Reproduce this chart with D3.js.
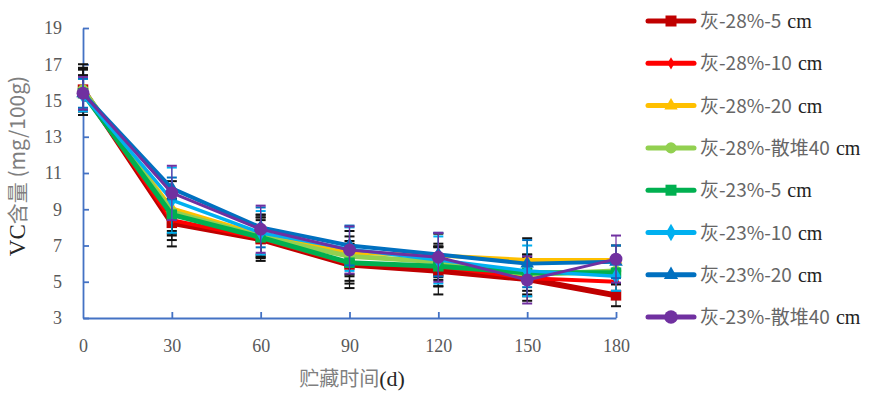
<!DOCTYPE html>
<meta charset="utf-8">
<style>
body { margin: 0; background: #fff; }
text { font-family: 'Liberation Serif', serif; }
.cjk { font-family: 'Noto Sans CJK SC', sans-serif; }
</style>
<body>
<script src="https://cdn.jsdelivr.net/npm/d3@7"></script>
<script>

// data
var days = [0, 30, 60, 90, 120, 150, 180];
var yTicks = [3, 5, 7, 9, 11, 13, 15, 17, 19];

var names = ["灰-28%-5", "灰-28%-10", "灰-28%-20", "灰-28%-散堆40",
             "灰-23%-5", "灰-23%-10", "灰-23%-20", "灰-23%-散堆40"];

var s28_5   = [15.6, 8.25, 7.35, 5.95, 5.6, 5.15, 4.25];
var s28_10  = [15.5, 8.4, 7.4, 6.0, 5.85, 5.2, 5.0];
var s28_20  = [15.6, 9.05, 7.6, 6.6, 6.45, 6.2, 6.2];
var s28_40  = [15.6, 8.85, 7.5, 6.4, 6.1, 5.4, 5.6];
var s23_5   = [15.4, 8.7, 7.45, 6.05, 5.85, 5.5, 5.5];
var s23_10  = [15.3, 9.5, 7.7, 6.8, 6.2, 5.6, 5.3];
var s23_20  = [15.4, 10.15, 8.0, 7.0, 6.5, 6.0, 6.1];
var s23_40  = [15.4, 9.9, 7.9, 6.75, 6.35, 5.1, 6.25];

// standard errors
var e28_5   = [1.4, 1.3, 1.2, 1.3, 1.3, 1.2, 0.6];
var e28_10  = [1.3, 1.1, 1.0, 1.1, 1.1, 1.0, 0.5];
var e28_20  = [1.2, 1.5, 1.1, 1.2, 1.2, 1.2, 0.8];
var e28_40  = [1.1, 1.2, 1.2, 1.1, 1.0, 1.1, 0.7];
var e23_5   = [1.0, 0.9, 1.1, 1.0, 1.1, 1.0, 0.6];
var e23_10  = [0.9, 1.8, 1.2, 1.2, 1.3, 1.4, 0.8];
var e23_20  = [0.8, 0.6, 1.1, 1.1, 1.2, 1.3, 0.9];
var e23_40  = [0.9, 1.5, 1.3, 1.3, 1.35, 1.3, 1.3];

var values = [s28_5, s28_10, s28_20, s28_40, s23_5, s23_10, s23_20, s23_40];
var errors = [e28_5, e28_10, e28_20, e28_40, e23_5, e23_10, e23_20, e23_40];
var colors = ["#c00000", "#ff0000", "#ffc000", "#92d050", "#00b050", "#00b0f0", "#0070c0", "#7030a0"];
var errColors = ["#111", "#111", "#111", "#111", "#111", "#00b0f0", "#0070c0", "#7030a0"];
var widths = [6, 4, 4, 5, 5, 3.5, 4, 3];
var shapes = [d3.symbolSquare, d3.symbolDiamond, d3.symbolTriangle, d3.symbolCircle,
              d3.symbolSquare, d3.symbolDiamond, d3.symbolTriangle, d3.symbolCircle];
var sizes = [110, 40, 70, 90, 110, 80, 80, 130];

var margin = {left: 83, top: 28},
    W = 886, H = 398,
    width = 616 - margin.left,
    height = 318 - margin.top;

var svg = d3.select("body").append("svg")
    .attr("width", W).attr("height", H);

var g = svg.append("g")
    .attr("transform", "translate(" + margin.left + "," + margin.top + ")");

var x = d3.scaleLinear().domain([0, 180]).range([0, width]);
var y = d3.scaleLinear().domain([3, 19]).range([height, 0]);

var axisColor = "#4472c4";

// ticks point inward, like the original
var xAxis = g.append("g")
    .attr("transform", "translate(0," + height + ")")
    .call(d3.axisBottom(x).tickValues(days).tickSize(-6).tickSizeOuter(0).tickPadding(21));
var yAxis = g.append("g")
    .call(d3.axisLeft(y).tickValues(yTicks).tickSize(-6).tickSizeOuter(0).tickPadding(21));

[xAxis, yAxis].forEach(function(a) {
  a.select(".domain").attr("stroke", axisColor).attr("stroke-width", 1.8);
  a.selectAll(".tick line").attr("stroke", axisColor).attr("stroke-width", 1.8);
  a.selectAll(".tick text").attr("fill", "#595959")
    .style("font-family", "'Liberation Serif', serif").style("font-size", "18px");
});
xAxis.select(".tick line").remove();

var line = d3.line()
    .x(function(d, i) { return x(days[i]); })
    .y(function(d) { return y(d); });

values.forEach(function(vals, k) {
  var sg = g.append("g");
  var errs = errors[k];
  // error bars
  vals.forEach(function(v, i) {
    var cx = x(days[i]);
    var top = y(v + errs[i]), bot = y(v - errs[i]);
    sg.append("line").attr("x1", cx).attr("x2", cx).attr("y1", top).attr("y2", bot)
      .attr("stroke", errColors[k]).attr("stroke-width", 1.2);
    [top, bot].forEach(function(yy) {
      sg.append("line").attr("x1", cx - 5).attr("x2", cx + 5).attr("y1", yy).attr("y2", yy)
        .attr("stroke", errColors[k]).attr("stroke-width", 2);
    });
  });
  sg.append("path").datum(vals)
    .attr("d", line)
    .attr("fill", "none")
    .attr("stroke", colors[k])
    .attr("stroke-width", widths[k])
    .attr("stroke-linejoin", "round");
  sg.selectAll(".m").data(vals).enter().append("path")
    .attr("transform", function(d, i) { return "translate(" + x(days[i]) + "," + y(d) + ")"; })
    .attr("d", d3.symbol().type(shapes[k]).size(sizes[k]))
    .attr("fill", colors[k]);
});

// axis titles
var yt = svg.append("text")
    .attr("transform", "translate(25,166) rotate(-90)")
    .attr("text-anchor", "middle")
    .attr("fill", "#262626")
    .style("font-size", "23px");
yt.append("tspan").text("VC");
yt.append("tspan").attr("class", "cjk").attr("fill", "#7f7f7f").style("font-size", "21px").text("含量 (mg/100g)");

var xt = svg.append("text")
    .attr("x", 352).attr("y", 386)
    .attr("text-anchor", "middle")
    .attr("fill", "#262626")
    .style("font-size", "22px");
xt.append("tspan").attr("class", "cjk").attr("fill", "#7f7f7f").style("font-size", "20px").text("贮藏时间");
xt.append("tspan").text("(d)");

// legend
var leg = svg.append("g").attr("transform", "translate(646,21)");
names.forEach(function(n, k) {
  var r = leg.append("g").attr("transform", "translate(0," + (k * 42.3) + ")");
  r.append("line").attr("x1", 2).attr("x2", 48).attr("y1", 0).attr("y2", 0)
    .attr("stroke", colors[k]).attr("stroke-width", 5).attr("stroke-linecap", "round");
  r.append("path").attr("transform", "translate(25,0)")
    .attr("d", d3.symbol().type(shapes[k]).size(sizes[k] * 1.1))
    .attr("fill", colors[k]);
  var t = r.append("text").attr("x", 54).attr("y", 7).style("font-size", "19px");
  t.append("tspan").attr("class", "cjk").attr("fill", "#666").text(n);
  t.append("tspan").attr("fill", "#222").attr("dx", 6).style("font-size", "20px").text("cm");
});

</script>
</body>
